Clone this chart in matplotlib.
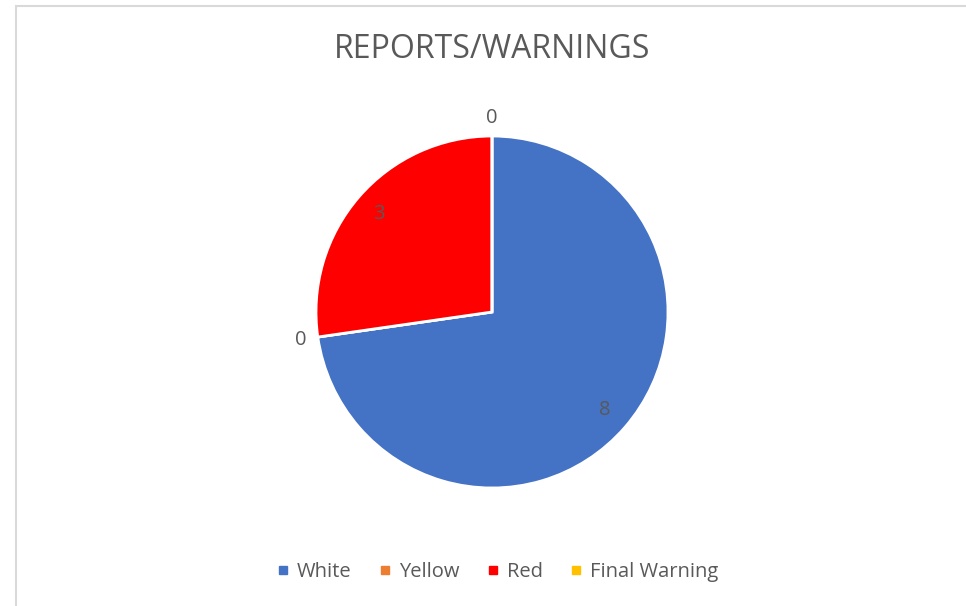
import numpy as np
import matplotlib
matplotlib.use('Agg')
import matplotlib.pyplot as plt
from matplotlib.patches import Rectangle
from matplotlib.lines import Line2D

# ── Data ───────────────────────────────────────────────
categories = ['White', 'Yellow', 'Red', 'Final Warning']
counts = [8, 0, 3, 0]
colors = ['#4472C4', '#ED7D31', '#FF0000', '#FFC000']
TXT = '#595959'

plt.rcParams['font.family'] = ['Open Sans', 'DejaVu Sans']

W, H = 966, 606
fig = plt.figure(figsize=(W/100, H/100), dpi=100)
fig.patch.set_facecolor('white')

# chart frame (extends past right/bottom edge)
fig.patches.append(Rectangle((15.5/W, -0.05), 1.1, 1 + 0.05 - 5.5/H,
                             transform=fig.transFigure, fill=False,
                             ec='#D9D9D9', lw=1.5))

# pie axes: centre (492, 312) px, radius 176 px
cx, cy, r = 492, 312, 176
ax = fig.add_axes([(cx-r)/W, (H-cy-r)/H, 2*r/W, 2*r/H])
wedges, _ = ax.pie(counts, colors=colors, startangle=90, counterclock=False,
                   wedgeprops=dict(edgecolor='white', linewidth=2))
ax.set_xlim(-1, 1); ax.set_ylim(-1, 1)
ax.set_aspect('equal'); ax.axis('off')

for w, v in zip(wedges, counts):
    ang = np.deg2rad((w.theta1 + w.theta2) / 2)
    d = 0.85 if v > 0 else 1.10
    ax.text(d*np.cos(ang), d*np.sin(ang), f'{v}', ha='center', va='center',
            fontsize=14.5, color=TXT, clip_on=False)

fig.text(cx/W, 1 - 49/H, 'REPORTS/WARNINGS', ha='center', va='center',
         fontsize=23, color=TXT)

handles = [Line2D([], [], marker='s', ls='', color=c, ms=6) for c in colors]
fig.legend(handles, categories, loc='center', bbox_to_anchor=(497/W, 1 - 572/H),
           ncol=4, frameon=False, fontsize=14.5, labelcolor=TXT,
           handlelength=0.7, handletextpad=0.35, columnspacing=1.3)

fig.savefig('out.png', dpi=100, facecolor='white')
